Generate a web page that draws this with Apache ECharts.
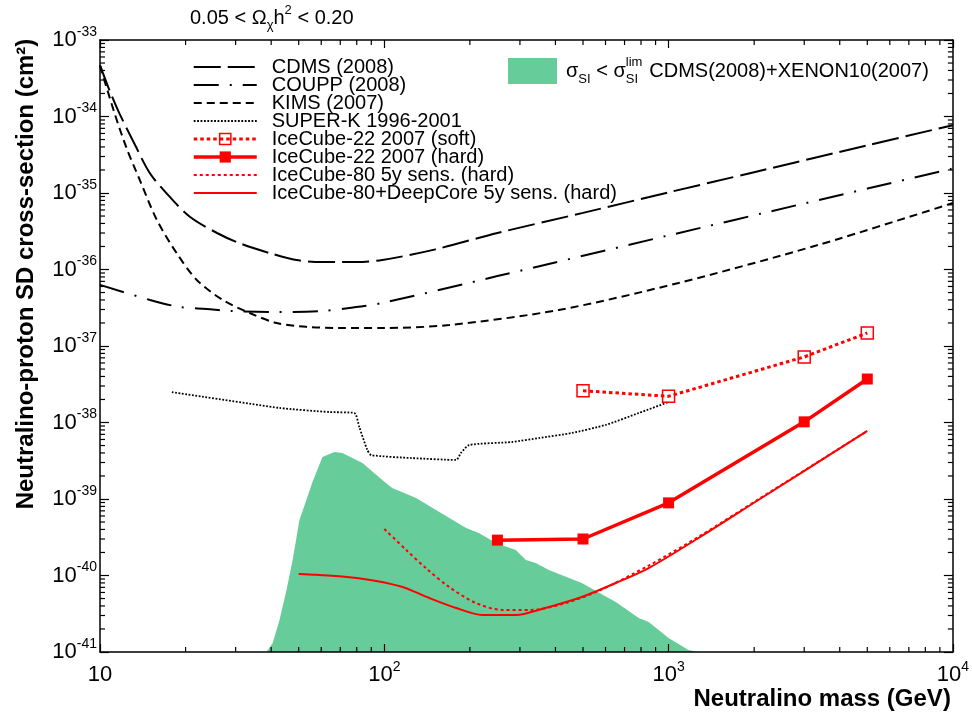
<!DOCTYPE html>
<html>
<head>
<meta charset="utf-8">
<script src="https://cdn.jsdelivr.net/npm/echarts@6/dist/echarts.min.js"></script>
<style>html,body{margin:0;padding:0;background:#fff}#c{width:972px;height:713px}</style>
</head>
<body>
<div id="c"></div>
<script>
// ---------- data (mass in GeV, cross-section in cm^2) ----------
const titleText = '0.05 < Ω{c|χ}h{s|2} < 0.20';
const xAxisTitle = 'Neutralino mass (GeV)';
const yAxisTitle = 'Neutralino-proton SD cross-section (cm²)';
const xTickExponents = [1, 2, 3, 4];
const yTickExponents = [-41, -40, -39, -38, -37, -36, -35, -34, -33];

const seriesNames = [
  'CDMS (2008)', 'COUPP (2008)', 'KIMS (2007)', 'SUPER-K 1996-2001',
  'IceCube-22 2007 (soft)', 'IceCube-22 2007 (hard)',
  'IceCube-80 5y sens. (hard)', 'IceCube-80+DeepCore 5y sens. (hard)'
];
const greenName = 'SIlimit';

const cdmsMass = [10, 10.8, 11.7, 13.3, 15.0, 17.6, 20.7, 25.8, 31.0, 39.5, 49.1, 60.6, 79.7, 98.4, 150, 250, 500, 1000, 2000, 5000, 10000];
const cdmsXsec = [4.7e-34, 2.2e-34, 1.1e-34, 4.2e-35, 1.8e-35, 8.9e-36, 4.9e-36, 3.0e-36, 2.2e-36, 1.64e-36, 1.33e-36, 1.25e-36, 1.25e-36, 1.33e-36, 1.82e-36, 3.0e-36, 5.5e-36, 1.02e-35, 1.87e-35, 4.2e-35, 7.7e-35];

const couppMass = [10, 15.0, 19.1, 23.7, 28.6, 40.5, 60.6, 75.3, 98.4, 250, 1000, 3000, 10000];
const couppXsec = [6.3e-37, 4.0e-37, 3.23e-37, 3.05e-37, 2.87e-37, 2.78e-37, 2.87e-37, 3.14e-37, 3.65e-37, 8.2e-37, 2.79e-36, 7.3e-36, 2.09e-35];

const kimsMass = [10, 11.3, 12.4, 13.8, 15.85, 18.6, 21.9, 27.0, 33.6, 41.8, 53.2, 69.5, 98.4, 169, 411, 1084, 3356, 10000];
const kimsXsec = [4.6e-34, 1.05e-34, 3.87e-35, 1.48e-35, 4.44e-36, 1.64e-36, 7.3e-37, 4.0e-37, 2.7e-37, 2.0e-37, 1.78e-37, 1.72e-37, 1.72e-37, 1.88e-37, 2.96e-37, 6.67e-37, 2.09e-36, 7.4e-36];

const superkMass = [17.9, 42.8, 64.1, 78.5, 81.7, 87.1, 90, 125, 179, 186, 199, 281, 350, 457, 601, 785, 1000];
const superkXsec = [2.5e-38, 1.55e-38, 1.37e-38, 1.33e-38, 8.7e-39, 4.4e-39, 3.75e-39, 3.43e-39, 3.24e-39, 4.0e-39, 5.08e-39, 5.56e-39, 6.26e-39, 7.3e-39, 9.3e-39, 1.33e-38, 1.85e-38];

const ic22SoftMass = [500, 1000, 3000, 5000];
const ic22SoftXsec = [2.6e-38, 2.2e-38, 7.2e-38, 1.48e-37];

const ic22HardMass = [250, 500, 1000, 3000, 5000];
const ic22HardXsec = [2.9e-40, 3.0e-40, 8.9e-40, 1.02e-38, 3.7e-38];

const ic80Mass = [100, 119.5, 140, 169, 210, 260, 330, 435, 568, 851, 1274, 2069, 5000];
const ic80Xsec = [4.05e-40, 2.15e-40, 1.25e-40, 7.08e-41, 4.37e-41, 3.55e-41, 3.55e-41, 4.37e-41, 6.3e-41, 1.35e-40, 3.2e-40, 9.9e-40, 7.75e-39];

const deepcoreMass = [50, 57.7, 75.3, 93.7, 116, 144, 179, 221, 291, 358, 495, 652, 851, 1274, 2069, 5000];
const deepcoreXsec = [1.05e-40, 1.02e-40, 9.5e-41, 8.5e-41, 7.08e-41, 5.08e-41, 3.76e-41, 3.05e-41, 3.05e-41, 3.65e-41, 5.24e-41, 7.98e-41, 1.25e-40, 3.09e-40, 9.7e-40, 7.75e-39];

const greenMass = [38.5, 40.5, 42.8, 45.3, 47.6, 50.3, 53.2, 55.9, 60.6, 66.8, 71.2, 83.8, 98.4, 106.6, 129.4, 152, 194, 215, 247, 290, 315, 341, 379, 495, 652, 785, 851, 1000, 1175, 1274];
const greenXsec = [1e-41, 1.31e-41, 2.62e-41, 6.46e-41, 1.6e-40, 5.3e-40, 9.7e-40, 1.67e-39, 3.54e-39, 4.11e-39, 3.99e-39, 2.95e-39, 1.77e-39, 1.39e-39, 1.03e-39, 7.18e-40, 4.18e-40, 3.6e-40, 2.66e-40, 2.15e-40, 1.59e-40, 1.46e-40, 1.18e-40, 7.98e-41, 4.51e-41, 2.78e-41, 2.46e-41, 1.52e-41, 1.06e-41, 1e-41];

// ---------- build ----------
const FONT = '"Liberation Sans", Arial, Helvetica, sans-serif';
const Y_EXP0 = -41;                 // plotting unit = 1e-41 cm^2 (avoids float rounding at tiny values)
const Y_SCALE = Math.pow(10, -Y_EXP0);
const xMin = Math.pow(10, xTickExponents[0]), xMax = Math.pow(10, xTickExponents[xTickExponents.length - 1]);
const yMin = 1, yMax = Math.pow(10, yTickExponents[yTickExponents.length - 1] - Y_EXP0);
const RED = '#ff0000';

function pairs(m, s) { return m.map((v, i) => [v, s[i] * Y_SCALE]); }

const minorTicks = [];
for (let d = xTickExponents[0]; d < xTickExponents[xTickExponents.length - 1]; d++)
  for (let k = 2; k <= 9; k++) minorTicks.push([k * Math.pow(10, d), yMin, 0]);
for (let d = 0; d < yTickExponents.length - 1; d++)
  for (let k = 2; k <= 9; k++) minorTicks.push([xMin, k * Math.pow(10, d), 1]);

const labelRich = {
  b: { fontFamily: FONT, fontSize: 22, lineHeight: 30, color: '#000' },
  p: { fontFamily: FONT, fontSize: 14, lineHeight: 14, verticalAlign: 'top', color: '#000' }
};
function xLabel(v) {
  const e = Math.round(Math.log10(v));
  return e === 1 ? '{b|10}' : '{b|10}{p|' + e + '}';
}
function yLabel(v) {
  const e = Math.round(Math.log10(v)) + Y_EXP0;
  return '{b|10}{p|' + e + '}';
}
const axisLineStyle = { color: '#000', width: 1.5 };
const tickStyle = { color: '#000', width: 1.2 };

function xAxisDef(pos) {
  return {
    type: 'log', logBase: 10, min: xMin, max: xMax, splitNumber: 3, position: pos, gridIndex: 0, z: 5,
    axisLine: { show: true, onZero: false, lineStyle: axisLineStyle },
    axisTick: { show: true, inside: true, length: 8, lineStyle: tickStyle },
    splitLine: { show: false }, minorTick: { show: false },
    axisLabel: pos === 'bottom' ? { show: true, margin: 8, formatter: xLabel, rich: labelRich } : { show: false }
  };
}
function yAxisDef(pos) {
  return {
    type: 'log', logBase: 10, min: yMin, max: yMax, splitNumber: yTickExponents.length - 1, position: pos, gridIndex: 0, z: 5,
    axisLine: { show: true, onZero: false, lineStyle: axisLineStyle },
    axisTick: { show: true, inside: true, length: 9, lineStyle: tickStyle },
    splitLine: { show: false }, minorTick: { show: false },
    axisLabel: pos === 'left' ? { show: true, margin: 3, formatter: yLabel, rich: labelRich } : { show: false }
  };
}
const xBottom = xAxisDef('bottom');
xBottom.name = xAxisTitle;
xBottom.nameLocation = 'end';
xBottom.nameGap = 0;
xBottom.nameTextStyle = { fontFamily: FONT, fontSize: 24, fontWeight: 'bold', color: '#000', align: 'right', verticalAlign: 'top', padding: [35, 2, 0, 0] };
const yLeft = yAxisDef('left');
yLeft.name = yAxisTitle;
yLeft.nameLocation = 'middle';
yLeft.nameGap = 62;
yLeft.nameTextStyle = { fontFamily: FONT, fontSize: 24, fontWeight: 'bold', color: '#000', padding: [0, 0, 0, 144] };

function lineSeries(name, m, s, style, extra) {
  return Object.assign({
    name: name, type: 'line', data: pairs(m, s), xAxisIndex: 0, yAxisIndex: 0,
    showSymbol: false, symbol: 'none', silent: true, z: 3,
    lineStyle: style, itemStyle: { color: style.color }, emphasis: { disabled: true }
  }, extra || {});
}

const styles = [
  { color: '#000', width: 2, type: [27, 7] },
  { color: '#000', width: 2, type: [25, 11, 2, 11] },
  { color: '#000', width: 2, type: [8, 5] },
  { color: '#000', width: 1.8, type: [1.8, 1.6] },
  { color: RED, width: 3, type: [3.5, 3] },
  { color: RED, width: 3.5, type: 'solid' },
  { color: RED, width: 2, type: [3, 3] },
  { color: RED, width: 2, type: 'solid' }
];

const series = [
  {
    name: greenName, type: 'line', data: pairs(greenMass, greenXsec), showSymbol: false, symbol: 'none', silent: true, z: 1,
    lineStyle: { width: 0, color: '#66cc99' }, itemStyle: { color: '#66cc99' },
    areaStyle: { color: '#66cc99', opacity: 1, origin: 'start' }, emphasis: { disabled: true }
  },
  lineSeries(seriesNames[0], cdmsMass, cdmsXsec, styles[0], { smooth: 0.3 }),
  lineSeries(seriesNames[1], couppMass, couppXsec, styles[1], { smooth: 0.3 }),
  lineSeries(seriesNames[2], kimsMass, kimsXsec, styles[2], { smooth: 0.3 }),
  lineSeries(seriesNames[3], superkMass, superkXsec, styles[3], { smooth: 0.2 }),
  lineSeries(seriesNames[4], ic22SoftMass, ic22SoftXsec, styles[4], {
    showSymbol: true, symbol: 'rect', symbolSize: 12,
    itemStyle: { color: 'rgba(255,255,255,0)', borderColor: RED, borderWidth: 1.5 }
  }),
  lineSeries(seriesNames[5], ic22HardMass, ic22HardXsec, styles[5], {
    showSymbol: true, symbol: 'rect', symbolSize: 11, itemStyle: { color: RED, borderWidth: 0 }
  }),
  lineSeries(seriesNames[6], ic80Mass, ic80Xsec, styles[6], { smooth: 0.3 }),
  lineSeries(seriesNames[7], deepcoreMass, deepcoreXsec, styles[7], { smooth: 0.3 }),
  {
    type: 'custom', coordinateSystem: 'cartesian2d', xAxisIndex: 0, yAxisIndex: 0, silent: true, z: 10, clip: false,
    dimensions: ['x', 'y', 'k'], encode: { x: 0, y: 1 }, data: minorTicks,
    renderItem: function (params, api) {
      const st = { stroke: '#000', lineWidth: 1.2 };
      if (api.value(2) === 0) {
        const b = api.coord([api.value(0), yMin]);
        const t = api.coord([api.value(0), yMax]);
        return { type: 'group', children: [
          { type: 'line', shape: { x1: b[0], y1: b[1], x2: b[0], y2: b[1] - 5 }, style: st },
          { type: 'line', shape: { x1: t[0], y1: t[1], x2: t[0], y2: t[1] + 5 }, style: st }
        ] };
      }
      const l = api.coord([xMin, api.value(1)]);
      const r = api.coord([xMax, api.value(1)]);
      return { type: 'group', children: [
        { type: 'line', shape: { x1: l[0], y1: l[1], x2: l[0] + 5, y2: l[1] }, style: st },
        { type: 'line', shape: { x1: r[0], y1: r[1], x2: r[0] - 5, y2: r[1] }, style: st }
      ] };
    }
  }
];

const legendItems = seriesNames.map((n, i) => {
  const item = { name: n, lineStyle: { color: styles[i].color, width: styles[i].width, type: styles[i].type, opacity: 1 } };
  if (i === 4) item.itemStyle = { color: 'rgba(255,255,255,0)', borderColor: RED, borderWidth: 1.5, opacity: 1 };
  else if (i === 5) item.itemStyle = { color: RED, borderWidth: 0, opacity: 1 };
  else item.itemStyle = { opacity: 0 };
  return item;
});

const subStyle = { fontFamily: FONT, fontSize: 13, lineHeight: 13, color: '#000' };
const option = {
  animation: false,
  backgroundColor: '#fff',
  title: {
    text: titleText, left: 190, top: 4, padding: 0,
    textStyle: {
      fontFamily: FONT, fontSize: 20, fontWeight: 'normal', color: '#000', lineHeight: 28,
      rich: {
        c: Object.assign({}, subStyle, { verticalAlign: 'bottom' }),
        s: Object.assign({}, subStyle, { verticalAlign: 'top' })
      }
    }
  },
  grid: { left: 100, right: 17, top: 40, bottom: 61, containLabel: false },
  xAxis: [xBottom, xAxisDef('top')],
  yAxis: [yLeft, yAxisDef('right')],
  legend: [
    {
      orient: 'vertical', left: 192, top: 57, padding: 0, itemWidth: 63, itemHeight: 14, itemGap: -2,
      selectedMode: false, data: legendItems,
      textStyle: { fontFamily: FONT, fontSize: 20, color: '#000', lineHeight: 18, padding: [0, 0, 0, 10] }
    },
    {
      orient: 'vertical', left: 508, top: 56, padding: 0, itemWidth: 49, itemHeight: 26, itemGap: 0,
      selectedMode: false,
      data: [{ name: greenName, icon: 'rect', itemStyle: { color: '#66cc99', borderWidth: 0 } }],
      formatter: function () { return '{g|σ}{d|SI}{g| < σ}{u|lim}{e|SI}{g| CDMS(2008)+XENON10(2007)}'; },
      textStyle: {
        fontFamily: FONT, fontSize: 20, color: '#000', padding: [0, 0, 0, 4],
        rich: {
          g: { fontFamily: FONT, fontSize: 20, lineHeight: 30, color: '#000' },
          d: Object.assign({}, subStyle, { verticalAlign: 'bottom' }),
          e: Object.assign({}, subStyle, { verticalAlign: 'bottom', width: 18, align: 'left' }),
          u: Object.assign({}, subStyle, { verticalAlign: 'top', width: 0 })
        }
      }
    }
  ],
  series: series
};

const chart = echarts.init(document.getElementById('c'), null, { renderer: 'canvas' });
chart.setOption(option);
</script>
</body>
</html>
